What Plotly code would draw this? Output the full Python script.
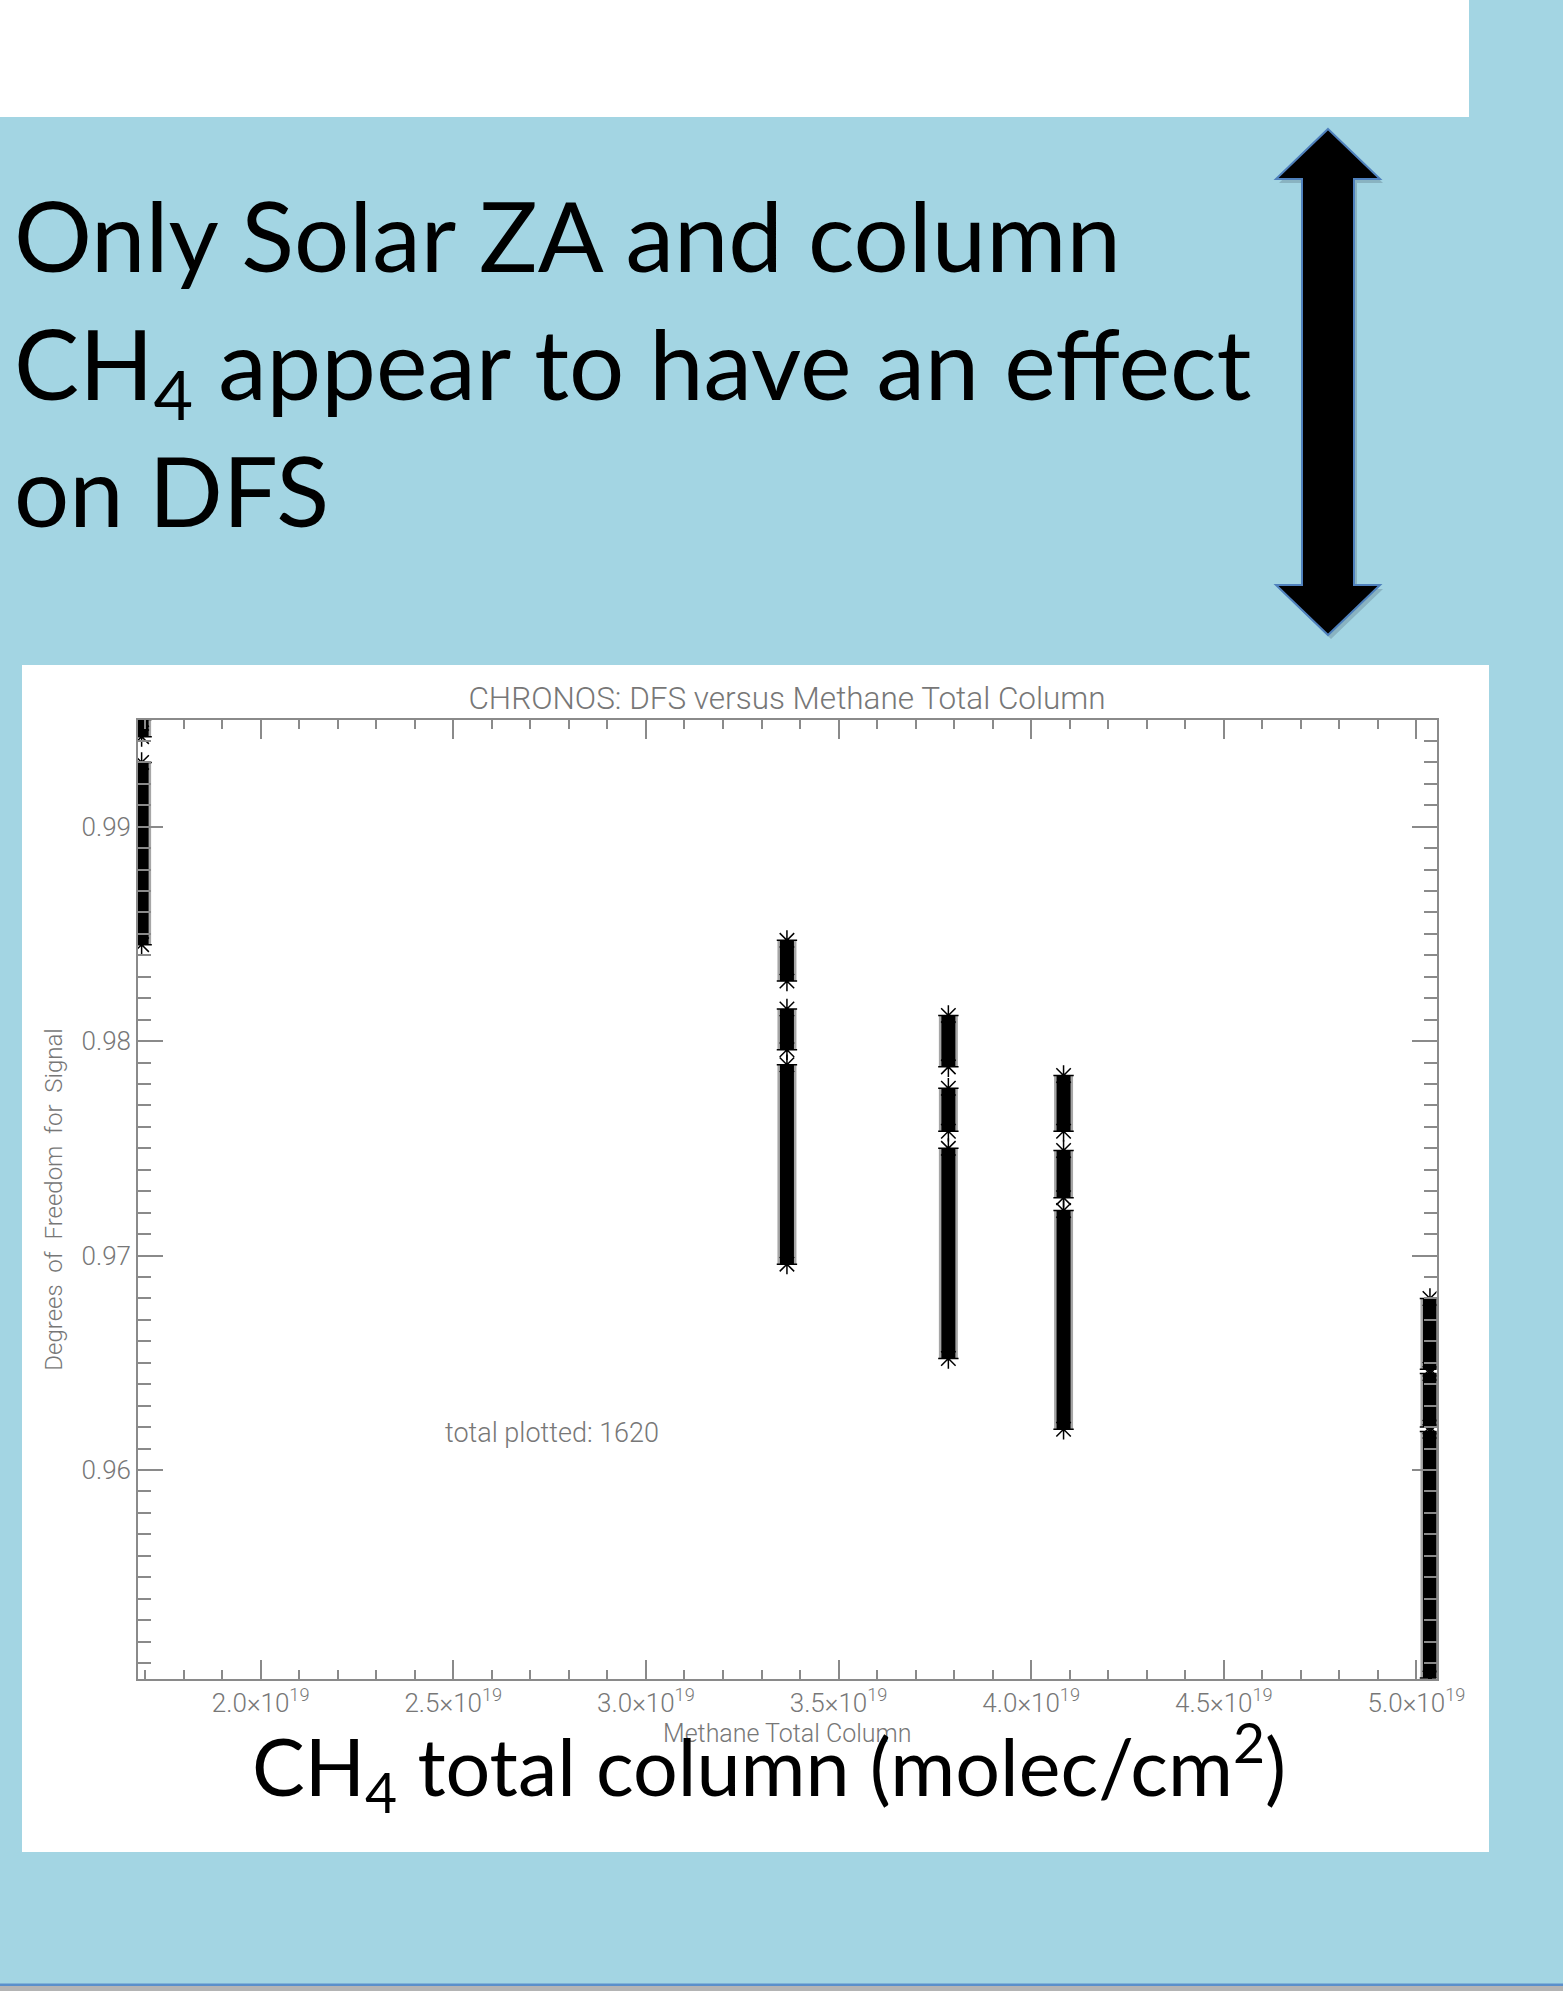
import plotly.graph_objects as go

W, H = 1563, 1991

# ---------------- data ----------------
column_x = [1.691e19, 3.366e19, 3.785e19, 4.084e19, 5.035e19]
col1_top = [0.9950, 0.9930]
col1_bot = [0.9942, 0.9845]
col2_top = [0.9847, 0.9815, 0.9789]
col2_bot = [0.9828, 0.9796, 0.9696]
col3_top = [0.9812, 0.9778, 0.9750]
col3_bot = [0.9788, 0.9758, 0.9652]
col4_top = [0.9784, 0.9749, 0.9721]
col4_bot = [0.9758, 0.9727, 0.9619]
col5_top = [0.9680, 0.9645, 0.9618]
col5_bot = [0.9647, 0.9620, 0.9503]

x_tick_vals = [2.0e19, 2.5e19, 3.0e19, 3.5e19, 4.0e19, 4.5e19, 5.0e19]
x_tick_text = ["2.0×10<sup>19</sup>", "2.5×10<sup>19</sup>", "3.0×10<sup>19</sup>",
               "3.5×10<sup>19</sup>", "4.0×10<sup>19</sup>", "4.5×10<sup>19</sup>",
               "5.0×10<sup>19</sup>"]
y_tick_vals = [0.96, 0.97, 0.98, 0.99]
y_tick_text = ["0.96", "0.97", "0.98", "0.99"]
x_range = [1.6816e19, 5.052e19]
y_range = [0.950252, 0.994977]
total_plotted = 1620

tops = [col1_top, col2_top, col3_top, col4_top, col5_top]
bots = [col1_bot, col2_bot, col3_bot, col4_bot, col5_bot]

def px(x):
    return x / W

def py(y):
    return 1 - y / H

fig = go.Figure()

for xc, tp, bt in zip(column_x, tops, bots):
    xs, ys = [], []
    for t, b in zip(tp, bt):
        xs += [xc, xc, None]
        ys += [t, b, None]
    # soft grey fringe of overlapping asterisks
    fig.add_trace(go.Scatter(
        x=xs, y=ys, mode="lines",
        line=dict(color="rgba(0,0,0,0.35)", width=19),
        showlegend=False, hoverinfo="skip"))
    fig.add_trace(go.Scatter(
        x=xs, y=ys, mode="lines+markers",
        line=dict(color="black", width=14),
        marker=dict(symbol="asterisk-open", size=17,
                    line=dict(color="rgba(0,0,0,0.7)", width=1.5)),
        showlegend=False, hoverinfo="skip"))

axis_col = "#8a8a8a"
text_col = "#777777"
idl_font = "Roboto, 'DejaVu Sans', sans-serif"

fig.update_layout(
    width=W, height=H, autosize=False,
    margin=dict(l=0, r=0, t=0, b=0, pad=0, autoexpand=False),
    paper_bgcolor="#A3D5E3",
    plot_bgcolor="white",
    title=dict(text="CHRONOS: DFS versus Methane Total Column",
               x=px(787), y=py(698), xanchor="center", yanchor="middle",
               font=dict(family=idl_font, size=31.5, color=text_col, weight=300)),
    xaxis=dict(domain=[px(138), px(1436.5)], range=x_range, automargin=False,
               tickmode="array", tickvals=x_tick_vals, ticktext=x_tick_text,
               ticks="inside", ticklen=19, tickwidth=1.5, tickcolor=axis_col,
               showline=True, linecolor=axis_col, linewidth=1.5, mirror="ticks",
               showgrid=False, zeroline=False,
               minor=dict(dtick=1e18, tick0=2e19, ticks="inside", ticklen=9,
                          tickwidth=1.5, tickcolor=axis_col, showgrid=False),
               tickfont=dict(family=idl_font, size=26, color=text_col, weight=300),
               title=dict(text="Methane Total Column", standoff=8,
                          font=dict(family=idl_font, size=25, color=text_col, weight=300))),
    yaxis=dict(domain=[py(1679), py(720)], range=y_range, automargin=False,
               tickmode="array", tickvals=y_tick_vals, ticktext=y_tick_text,
               ticks="inside", ticklen=25, tickwidth=1.5, tickcolor=axis_col,
               showline=True, linecolor=axis_col, linewidth=1.5, mirror="ticks",
               showgrid=False, zeroline=False,
               minor=dict(dtick=0.001, tick0=0.96, ticks="inside", ticklen=13,
                          tickwidth=1.5, tickcolor=axis_col, showgrid=False),
               tickfont=dict(family=idl_font, size=26, color=text_col, weight=300),
               title=dict(text="Degrees  of  Freedom  for  Signal", standoff=12,
                          font=dict(family=idl_font, size=24, color=text_col, weight=300))),
)

shapes = []
# white box at top
shapes.append(dict(type="rect", xref="paper", yref="paper", layer="below",
                   x0=px(0), x1=px(1469), y0=py(117), y1=py(0),
                   fillcolor="white", line=dict(width=0)))
# white panel behind the chart
shapes.append(dict(type="rect", xref="paper", yref="paper", layer="below",
                   x0=px(22), x1=px(1489), y0=py(1852), y1=py(665),
                   fillcolor="white", line=dict(width=0)))
# bottom strip
shapes.append(dict(type="rect", xref="paper", yref="paper", layer="below",
                   x0=0, x1=1, y0=py(1986), y1=py(1983.5),
                   fillcolor="#5A8FCB", line=dict(width=0)))
shapes.append(dict(type="rect", xref="paper", yref="paper", layer="below",
                   x0=0, x1=1, y0=0, y1=py(1986),
                   fillcolor="#B4B4B4", line=dict(width=0)))
# double-headed arrow
pts = [(1328, 129), (1380, 179), (1354, 179), (1354, 585), (1380, 585),
       (1328, 635), (1276, 585), (1302, 585), (1302, 179), (1276, 179)]
shadow = "M " + " L ".join(f"{px(a + 3):.5f},{py(b + 4):.5f}" for a, b in pts) + " Z"
path = "M " + " L ".join(f"{px(a):.5f},{py(b):.5f}" for a, b in pts) + " Z"
shapes.append(dict(type="path", xref="paper", yref="paper", path=shadow,
                   fillcolor="rgba(60,80,90,0.25)", line=dict(width=0)))
shapes.append(dict(type="path", xref="paper", yref="paper", path=path,
                   fillcolor="black", line=dict(color="#4F81BD", width=2)))
fig.update_layout(shapes=shapes)

big_font = "Lato, 'Open Sans', sans-serif"
annotations = []
title_lines = ["Only Solar ZA and column",
               "CH<sub>4</sub> appear to have an effect",
               "on DFS"]
title_tops = [174, 302, 429]
for txt, top in zip(title_lines, title_tops):
    annotations.append(dict(text=txt, xref="paper", yref="paper",
                            x=px(12), y=py(top), xanchor="left", yanchor="top",
                            showarrow=False, align="left",
                            font=dict(family=big_font, size=97.5, color="black")))
annotations.append(dict(text="CH<sub>4</sub> total column (molec/cm<sup>2</sup>)",
                        xref="paper", yref="paper", x=px(769), y=py(1827),
                        xanchor="center", yanchor="bottom", showarrow=False,
                        font=dict(family=big_font, size=79, color="black")))
annotations.append(dict(text=f"total plotted: {total_plotted}",
                        xref="x", yref="y", x=2.755e19, y=0.96173,
                        xanchor="center", yanchor="middle", showarrow=False,
                        font=dict(family=idl_font, size=27, color=text_col, weight=300)))
fig.update_layout(annotations=annotations)

fig.write_html("out.html", config={"responsive": False})
